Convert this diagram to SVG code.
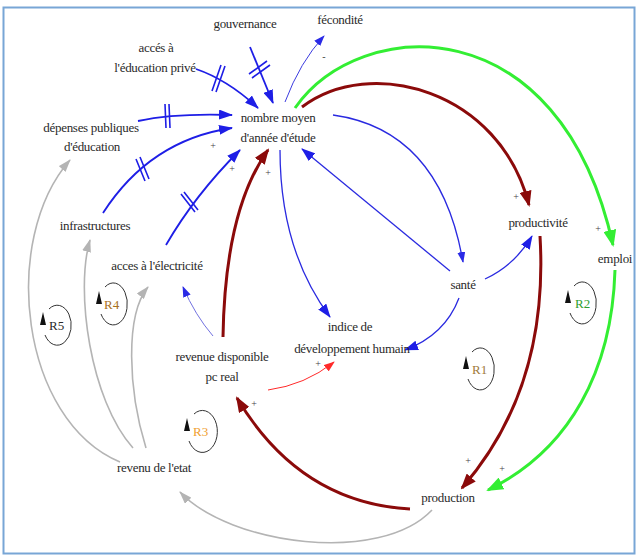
<svg xmlns="http://www.w3.org/2000/svg" width="640" height="559" viewBox="0 0 640 559">
<style>
.t{font-family:"Liberation Serif","Times New Roman",serif;font-size:13px;letter-spacing:-0.3px;fill:#2a2a2a;text-anchor:middle}
.p{font-family:"Liberation Serif","Times New Roman",serif;font-size:10px;fill:#444;text-anchor:middle}
.r{font-family:"Liberation Serif","Times New Roman",serif;font-size:13px;text-anchor:start}
.c{fill:none}
.bl{stroke:#1e1ee6;stroke-width:1.8}
.bt{stroke:#2a2ae0;stroke-width:1.3}
.bx{stroke:#3c3ce0;stroke-width:1}
.dr{stroke:#8b0a0a;stroke-width:3}
.gr{stroke:#33ee33;stroke-width:3}
.rd{stroke:#ff2a2a;stroke-width:1}
.gy{stroke:#b4b4b4;stroke-width:1.6}
.h{stroke:#1e1ee6;stroke-width:1.6}
.lp{fill:none;stroke:#333;stroke-width:1}
</style>
<defs>
<marker id="mb" markerUnits="userSpaceOnUse" markerWidth="14" markerHeight="10" refX="13" refY="5" orient="auto"><path d="M0,0 L14,5 L0,10 z" fill="#1e1ee6"/></marker>
<marker id="mbs" markerUnits="userSpaceOnUse" markerWidth="11" markerHeight="8" refX="10" refY="4" orient="auto"><path d="M0,0 L11,4 L0,8 z" fill="#2a2ae6"/></marker>
<marker id="mr" markerUnits="userSpaceOnUse" markerWidth="16" markerHeight="12" refX="14" refY="6" orient="auto"><path d="M0,0 L16,6 L0,12 z" fill="#8b0a0a"/></marker>
<marker id="mg" markerUnits="userSpaceOnUse" markerWidth="17" markerHeight="13" refX="15" refY="6.5" orient="auto"><path d="M0,0 L17,6.5 L0,13 z" fill="#33ee33"/></marker>
<marker id="mrd" markerUnits="userSpaceOnUse" markerWidth="11" markerHeight="8" refX="10" refY="4" orient="auto"><path d="M0,0 L11,4 L0,8 z" fill="#ff2a2a"/></marker>
<marker id="my" markerUnits="userSpaceOnUse" markerWidth="13" markerHeight="9" refX="12" refY="4.5" orient="auto"><path d="M0,0 L13,4.5 L0,9 z" fill="#b4b4b4"/></marker>
</defs>
<rect x="0" y="0" width="640" height="559" fill="#fff"/>
<rect x="3.5" y="7.5" width="631" height="546" fill="none" stroke="#78a6d6" stroke-width="2"/>

<g id="connectors">
<path class="c bl" d="M250,47 L273,103" marker-end="url(#mb)"/>
<path class="c bl" d="M196,69 Q228,80 258,108" marker-end="url(#mb)"/>
<path class="c bl" d="M138,121 Q175,113 232,115" marker-end="url(#mb)"/>
<path class="c bl" d="M103,213 Q150,140 232,128" marker-end="url(#mb)"/>
<path class="c bl" d="M166,245 Q195,195 240,150" marker-end="url(#mb)"/>
<path class="c bx" d="M285,102 Q300,62 324,36" marker-end="url(#mbs)"/>
<path class="c bt" d="M333,115 Q440,130 463,262" marker-end="url(#mbs)"/>
<path class="c bt" d="M450,271 L302,149" marker-end="url(#mb)"/>
<path class="c bt" d="M485,279 Q515,265 532,236" marker-end="url(#mb)"/>
<path class="c bt" d="M459,298 Q445,335 405,350" marker-end="url(#mb)"/>
<path class="c bt" d="M280,150 Q280,250 330,317" marker-end="url(#mb)"/>
<path class="c" stroke="#7272e0" stroke-width="1" d="M213,336 Q195,315 183,287" marker-end="url(#mbs)"/>
<path class="c dr" d="M223,337 Q225,210 268,150" marker-end="url(#mr)"/>
<path class="c dr" d="M302,107 C370,55 500,90 529,205" marker-end="url(#mr)"/>
<path class="c dr" d="M540,236 C545,320 530,410 462,488" marker-end="url(#mr)"/>
<path class="c dr" d="M410,509 C340,505 280,470 237,398" marker-end="url(#mr)"/>
<path class="c gr" d="M295,108 C360,15 560,5 613,245" marker-end="url(#mg)"/>
<path class="c gr" d="M615,270 C612,370 570,450 488,490" marker-end="url(#mg)"/>
<path class="c rd" d="M268,390 Q305,385 334,362" marker-end="url(#mrd)"/>
<path class="c gy" d="M120,462 C20,420 0,240 70,160" marker-end="url(#my)"/>
<path class="c gy" d="M133,448 C90,400 75,290 90,240" marker-end="url(#my)"/>
<path class="c gy" d="M146,448 C128,390 125,315 148,287" marker-end="url(#my)"/>
<path class="c gy" d="M432,510 C380,565 230,545 180,492" marker-end="url(#my)"/>
<g id="delays">
<path class="h" d="M249,74 L267,61 M252,78 L270,65"/>
<path class="h" d="M212,91 L221,65 M216,92 L225,66"/>
<path class="h" d="M165,104 L166,128 M169,104 L170,128"/>
<path class="h" d="M136,159 L145,181 M140,157 L149,179"/>
<path class="h" d="M181,194 L195,212 M184,192 L198,210"/>
</g>
<g id="signs">
<text class="p" x="213" y="149">+</text>
<text class="p" x="232" y="172">+</text>
<text class="p" x="268" y="176">+</text>
<text class="p" x="516" y="200">+</text>
<text class="p" x="598" y="232">+</text>
<text class="p" x="468" y="464">+</text>
<text class="p" x="502" y="472">+</text>
<text class="p" x="254" y="407">+</text>
<text class="p" x="318" y="367">+</text>
<text class="p" x="324" y="60">-</text>
</g>
</g>

<g id="loops">
<g id="R5"><path class="lp" d="M45,335 A14,20 0 1 0 49,309"/><polygon points="40,325 46,325 43,312" fill="#111"/><text class="r" x="49" y="330" fill="#2a2a2a">R5</text></g>
<g id="R4"><path class="lp" d="M101,314 A14,21 0 1 0 105,287"/><polygon points="96,304 102,304 99,291" fill="#111"/><text class="r" x="104" y="309" fill="#a8701e">R4</text></g>
<g id="R3"><path class="lp" d="M189,441 A15,21 0 1 0 194,414"/><polygon points="184,431 190,431 187,418" fill="#111"/><text class="r" x="193" y="436" fill="#f0a030">R3</text></g>
<g id="R1"><path class="lp" d="M468,379 A14,21 0 1 0 472,352"/><polygon points="463,369 469,369 466,356" fill="#111"/><text class="r" x="472" y="374" fill="#a07a3a">R1</text></g>
<g id="R2"><path class="lp" d="M570,313 A14,21 0 1 0 574,286"/><polygon points="565,303 571,303 568,290" fill="#111"/><text class="r" x="575" y="308" fill="#2e9e2e">R2</text></g>
</g>

<g id="gouvernance"><text class="t" x="245" y="28">gouvernance</text></g>
<g id="fecondite"><text class="t" x="340" y="24">fécondité</text></g>
<g id="acces-education"><text class="t" x="156" y="52">accés à</text><text class="t" x="155" y="72">l'éducation privé</text></g>
<g id="depenses"><text class="t" x="91" y="132">dépenses publiques</text><text class="t" x="92" y="151">d'éducation</text></g>
<g id="nombre-moyen"><text class="t" x="278" y="122">nombre moyen</text><text class="t" x="278" y="142">d'année d'étude</text></g>
<g id="infrastructures"><text class="t" x="95" y="230">infrastructures</text></g>
<g id="electricite"><text class="t" x="157" y="270">acces à l'électricité</text></g>
<g id="sante"><text class="t" x="463" y="289">santé</text></g>
<g id="productivite"><text class="t" x="538" y="227">productivité</text></g>
<g id="emploi"><text class="t" x="615" y="263">emploi</text></g>
<g id="indice"><text class="t" x="350" y="331">indice de</text><text class="t" x="352" y="353">développement humain</text></g>
<g id="revenue-disponible"><text class="t" x="222" y="361">revenue disponible</text><text class="t" x="222" y="381">pc real</text></g>
<g id="revenu-etat"><text class="t" x="154" y="472">revenu de l'etat</text></g>
<g id="production"><text class="t" x="448" y="502">production</text></g>
</svg>
